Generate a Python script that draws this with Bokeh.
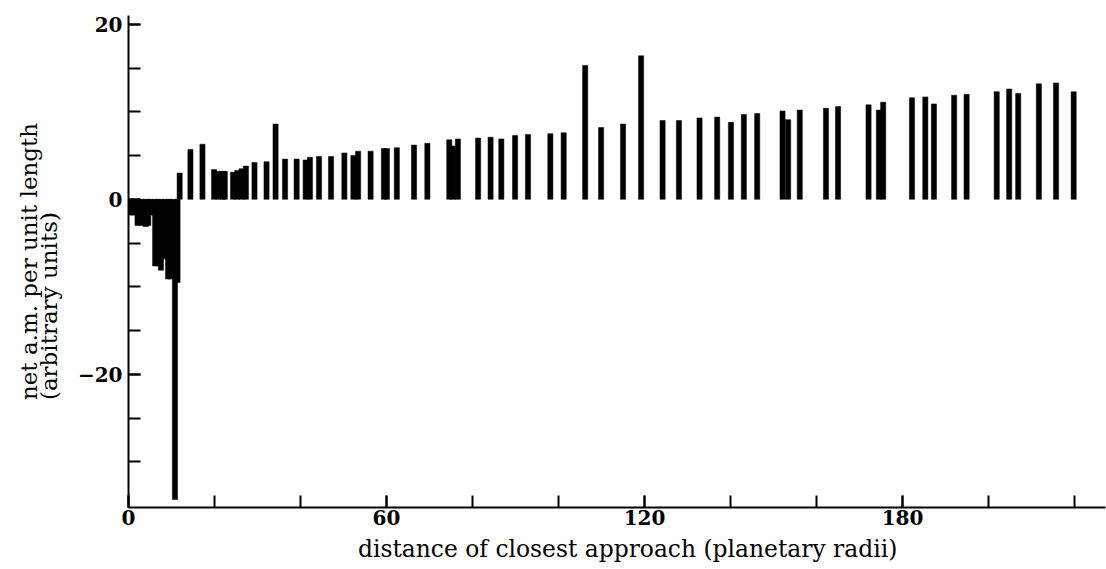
from bokeh.plotting import figure
from bokeh.models import ColumnDataSource, Range1d, FixedTicker, CustomJSTickFormatter, Title
from bokeh.embed import file_html
from bokeh.resources import INLINE

# negative (inner) region: distance of closest approach vs net a.m.
neg_x = [0.6, 1.1, 2.1, 3.1, 4.0, 4.6, 5.3, 6.2, 6.8, 7.55, 8.4, 9.2, 9.7, 10.8, 11.4]
neg_v = [-1.8, -1.8, -3.0, -3.0, -3.1, -3.0, -1.8, -7.6, -7.6, -8.1, -6.8, -9.1, -9.1, -34.3, -9.5]

# positive (outer) region
pos_x = [11.9, 14.4, 17.2, 19.9, 20.9, 21.9, 22.4, 24.3, 25.3, 26.3, 27.3, 29.3, 32.1,
         34.2, 36.4, 39.1, 41.2, 42.2, 44.3, 47.1, 50.2, 52.3, 53.4, 56.3, 59.4, 60.1,
         62.4, 66.4, 69.5, 74.6, 75.5, 76.6, 81.3, 84.2, 86.7, 89.9, 92.9, 98.1, 101.2,
         106.2, 109.9, 115.0, 119.2, 124.2, 128.0, 132.8, 136.9, 140.1, 143.1, 146.2,
         152.1, 153.4, 156.1, 162.2, 165.0, 172.1, 174.5, 175.5, 182.2, 185.3, 187.3,
         192.0, 194.9, 201.9, 204.8, 206.9, 211.7, 215.7, 219.8]
pos_v = [3.0, 5.7, 6.3, 3.4, 3.2, 3.2, 3.2, 3.1, 3.3, 3.5, 3.8, 4.2, 4.3,
         8.6, 4.6, 4.6, 4.5, 4.8, 4.9, 4.9, 5.3, 5.0, 5.5, 5.5, 5.8, 5.8,
         5.9, 6.2, 6.4, 6.8, 6.1, 6.9, 7.0, 7.1, 6.9, 7.3, 7.4, 7.5, 7.6,
         15.3, 8.2, 8.6, 16.4, 9.0, 9.0, 9.3, 9.4, 8.8, 9.7, 9.8,
         10.1, 9.1, 10.2, 10.4, 10.6, 10.8, 10.2, 11.1, 11.6, 11.7, 10.9,
         11.9, 12.0, 12.3, 12.6, 12.1, 13.2, 13.3, 12.3]

x_labelled_ticks = [0, 60, 120, 180]
x_all_ticks = [0, 20, 40, 60, 80, 100, 120, 140, 160, 180, 200, 220]
y_labelled_ticks = [-20, 0, 20]
y_all_ticks = [-30, -25, -20, -15, -10, -5, 0, 5, 10, 15, 20]

x_label = "distance of closest approach (planetary radii)"
y_label = "net a.m. per unit length\n(arbitrary units)"

FONT = "DejaVu Serif"

p = figure(width=1106, height=569,
           x_range=Range1d(0, 227.2), y_range=Range1d(-35.2, 21.0),
           output_backend="svg", toolbar_location=None,
           min_border_left=128, min_border_right=1, min_border_top=15, min_border_bottom=62)

p.vbar(x="x", top="v", bottom=0, width=1.2, source=ColumnDataSource(dict(x=neg_x, v=neg_v)),
       fill_color="black", line_color="black", line_width=0.5)
p.vbar(x="x", top="v", bottom=0, width=1.2, source=ColumnDataSource(dict(x=pos_x, v=pos_v)),
       fill_color="black", line_color="black", line_width=0.5)

p.outline_line_color = None
p.xgrid.visible = False
p.ygrid.visible = False
p.background_fill_color = "white"
p.border_fill_color = "white"

fmt = CustomJSTickFormatter(code="return tick < 0 ? '\u2212' + Math.abs(tick) : String(tick);")

for ax in (p.xaxis[0], p.yaxis[0]):
    ax.axis_line_color = "black"
    ax.axis_line_width = 2
    ax.major_tick_line_color = "black"
    ax.major_tick_line_width = 2
    ax.minor_tick_line_color = "black"
    ax.minor_tick_line_width = 2
    ax.major_tick_in = 12
    ax.major_tick_out = 0
    ax.minor_tick_in = 12
    ax.minor_tick_out = 0
    ax.major_label_text_font = FONT
    ax.major_label_text_font_size = "20px"
    ax.major_label_text_font_style = "bold"
    ax.major_label_text_color = "black"
    ax.formatter = fmt

p.xaxis[0].ticker = FixedTicker(ticks=x_labelled_ticks, minor_ticks=x_all_ticks)
p.yaxis[0].ticker = FixedTicker(ticks=y_labelled_ticks, minor_ticks=y_all_ticks)
p.xaxis[0].major_label_standoff = 2
p.yaxis[0].major_label_standoff = 6

# axis titles as side titles
p.add_layout(Title(text=y_label, align="center", standoff=24,
                   text_font=FONT, text_font_size="23px", text_font_style="normal",
                   text_color="black", text_line_height=0.8), "left")
p.add_layout(Title(text=x_label, align="left", offset=229.5, standoff=10,
                   text_font=FONT, text_font_size="23.4px", text_font_style="normal",
                   text_color="black"), "below")

open("out.html", "w").write(file_html(p, INLINE))
